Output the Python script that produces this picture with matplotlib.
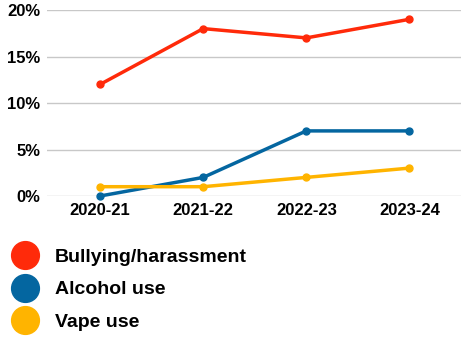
import matplotlib
matplotlib.use("Agg")
import matplotlib.pyplot as plt
from matplotlib.lines import Line2D

years = ["2020-21", "2021-22", "2022-23", "2023-24"]
bullying = [12, 18, 17, 19]
alcohol = [0, 2, 7, 7]
vape = [1, 1, 2, 3]
series_names = ["Bullying/harassment", "Alcohol use", "Vape use"]
colors = ["#FF2A0A", "#0466A0", "#FFB400"]
yticks = [0, 5, 10, 15, 20]

plt.rcParams['font.family'] = ['Liberation Sans', 'DejaVu Sans']

fig = plt.figure(figsize=(4.67, 3.41), dpi=100)
ax = fig.add_axes([47/467, 1-196/341, (461-47)/467, (196-10)/341])

x = list(range(len(years)))
for vals, c in zip([bullying, alcohol, vape], colors):
    ax.plot(x, vals, color=c, lw=2.5, marker='o', ms=5, clip_on=False, zorder=3)

ax.set_xlim(-0.515, 3.5)
ax.set_ylim(0, 20)
ax.set_yticks(yticks)
ax.set_yticklabels([f"{v}%" for v in yticks], fontsize=12, fontweight='bold')
ax.set_xticks(x)
ax.set_xticklabels(years, fontsize=12, fontweight='bold')
ax.tick_params(length=0, pad=5)
ax.tick_params(axis='x', pad=5)
ax.grid(axis='y', color='#c8c8c8', lw=1)
ax.set_axisbelow(True)
for s in ax.spines.values():
    s.set_visible(False)

handles = [Line2D([], [], marker='o', ls='none', ms=20, color=c) for c in colors]
fig.legend(handles, series_names, loc='upper left', bbox_to_anchor=(13/467, 1-248/341),
           frameon=False, prop={'size': 14, 'weight': 'bold'}, handlelength=1.2,
           handletextpad=0.95, labelspacing=0.78, borderaxespad=0, borderpad=0.0)

fig.savefig("out.png", dpi=100)
